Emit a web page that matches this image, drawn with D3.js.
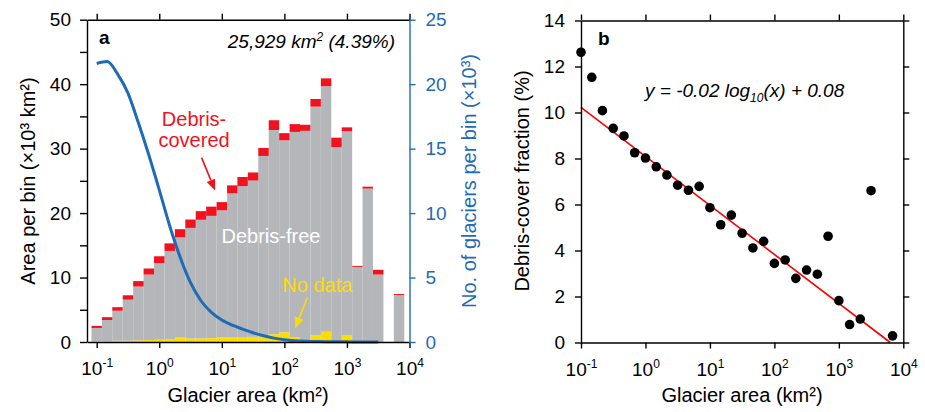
<!DOCTYPE html>
<html>
<head>
<meta charset="utf-8">
<script src="https://cdn.jsdelivr.net/npm/d3@7"></script>
<style>
  body { margin: 0; background: #fff; }
  svg { font-family: "Liberation Sans", Arial, Helvetica, sans-serif; }
</style>
</head>
<body>
<svg id="chart" width="925" height="412"></svg>
<script>
// bin centres (km2), each bin is 1/6 of a decade wide
const binCentres = [0.1, 0.147, 0.215, 0.316, 0.464, 0.681, 1, 1.47, 2.15, 3.16, 4.64, 6.81,
  10, 14.7, 21.5, 31.6, 46.4, 68.1, 100, 147, 215, 316, 464, 681, 1000, 1470, 2150, 3160, 4640, 6810];

// area per bin (x10^3 km2)
const noData = [0.1, 0.15, 0.2, 0.2, 0.25, 0.3, 0.35, 0.4, 0.7, 0.55, 0.55, 0.6,
  0.75, 0.75, 0.7, 0.8, 0.8, 1.2, 1.5, 0.7, 0.15, 1.0, 1.6, 0, 1.0, 0, 0, 0, 0, 0];
const debrisFree = [2.08, 3.26, 4.65, 6.37, 8.35, 10.16, 11.88, 13.73, 15.53, 17.15, 18.41, 18.97,
  19.68, 22.31, 23.48, 24.25, 28.06, 31.69, 29.79, 31.89, 32.61, 35.51, 38.09, 30.24, 31.69,
  11.65, 23.8, 10.46, 0, 7.3];
const debrisCovered = [0.32, 0.44, 0.55, 0.68, 0.85, 0.94, 1.07, 1.17, 1.27, 1.30, 1.34, 1.43,
  1.27, 1.24, 1.42, 1.25, 1.24, 1.51, 1.11, 1.21, 0.94, 1.19, 1.21, 1.46, 0.61,
  0.15, 0.3, 0.74, 0, 0.15];

// number of glaciers per bin (x10^3)
const glacierCount = [21.6, 21.75, 20.8, 19.3, 17.0, 14.5, 11.8, 9.0, 6.6, 4.6, 3.2, 2.3,
  1.7, 1.3, 1.0, 0.72, 0.48, 0.3, 0.18, 0.1, 0.06, 0.04, 0.02, 0.01, 0.01, 0, 0, 0];

// debris-cover fraction per bin (%)
const debrisFraction = [12.62, 11.53, 10.08, 9.31, 8.98, 8.25, 8.02, 7.64, 7.28, 6.84, 6.62, 6.79,
  5.86, 5.12, 5.54, 4.75, 4.11, 4.40, 3.44, 3.59, 2.79, 3.15, 2.97, 4.62, 1.82,
  0.78, 1.02, 6.60, null, 0.29];

// fitted line, % = slope * log10(area) + intercept
const fitSlope = -2.13;
const fitIntercept = 8.09;

const decades = [0.1, 1, 10, 100, 1000, 10000];
const exponents = ['-1', '0', '1', '2', '3', '4'];

const BLUE = '#1f6bb5';
const RED = '#f0121e';
const YELLOW = '#ffdc00';
const GREY = '#b4b6b9';
const halfBin = Math.pow(10, 1 / 12);

const svg = d3.select('#chart');

function styleAxis(g, colour) {
  g.attr('font-family', null).attr('font-size', 19);
  g.selectAll('path, line').attr('stroke', colour).attr('stroke-width', 1.4);
  g.selectAll('text').attr('fill', colour);
}

function decadeLabels(g) {
  g.selectAll('.tick text').remove();
  g.selectAll('.tick').append('text')
    .attr('y', 33)
    .attr('text-anchor', 'middle')
    .attr('fill', '#000')
    .attr('font-size', 19)
    .each(function (d, i) {
      const t = d3.select(this);
      t.append('tspan').text('10');
      t.append('tspan').attr('dy', -8).attr('font-size', 12)
        .text(exponents[decades.indexOf(d)]);
    });
}

function arrow(g, p1, p2, colour) {
  const [x1, y1] = p1, [x2, y2] = p2;
  const a = Math.atan2(y2 - y1, x2 - x1);
  const len = 11, w = 4.5;
  const bx = x2 - len * Math.cos(a), by = y2 - len * Math.sin(a);
  g.append('line').attr('x1', x1).attr('y1', y1).attr('x2', bx).attr('y2', by)
    .attr('stroke', colour).attr('stroke-width', 1.6);
  g.append('path')
    .attr('d', `M${x2},${y2}L${bx - w * Math.sin(a)},${by + w * Math.cos(a)}L${bx + w * Math.sin(a)},${by - w * Math.cos(a)}Z`)
    .attr('fill', colour);
}

// ---------------- panel a ----------------
const aLeft = 87, aRight = 409.5, aTop = 19.7, aBottom = 342;
const xa0 = d3.scaleLog().domain([0.1, 1e4]).range([96.7, aRight]);
const xa = xa0.copy().domain([xa0.invert(aLeft), 1e4]).range([aLeft, aRight]);
const ya = d3.scaleLinear().domain([0, 50]).range([aBottom, aTop]);
const yr = d3.scaleLinear().domain([0, 25]).range([aBottom, aTop]);

const rows = binCentres.map((c, i) => ({
  c: c, noData: noData[i], debrisFree: debrisFree[i], debrisCovered: debrisCovered[i]
}));
const stacked = d3.stack().keys(['noData', 'debrisFree', 'debrisCovered'])(rows);
const fills = { noData: YELLOW, debrisFree: GREY, debrisCovered: RED };

const pa = svg.append('g');
stacked.forEach(layer => {
  pa.append('g').attr('fill', fills[layer.key])
    .selectAll('rect')
    .data(layer.filter(d => d[1] > d[0]))
    .enter()
    .append('rect')
    .attr('x', d => xa(d.data.c / halfBin))
    .attr('width', d => xa(d.data.c * halfBin) - xa(d.data.c / halfBin))
    .attr('y', d => ya(d[1]))
    .attr('height', d => ya(d[0]) - ya(d[1]));
});

// glacier count curve
const countLine = d3.line()
  .x((d, i) => xa(binCentres[i]))
  .y(d => yr(d))
  .curve(d3.curveMonotoneX);
pa.append('path')
  .attr('d', countLine(glacierCount))
  .attr('fill', 'none')
  .attr('stroke', BLUE)
  .attr('stroke-width', 3);

// axes
const axB = pa.append('g').attr('transform', `translate(0,${aBottom})`)
  .call(d3.axisBottom(xa).tickValues(decades).tickSize(6).tickSizeOuter(0));
styleAxis(axB, '#000');
decadeLabels(axB);

const axT = pa.append('g').attr('transform', `translate(0,${aTop})`)
  .call(d3.axisTop(xa).tickValues(decades).tickSize(6).tickSizeOuter(0).tickFormat(''));
styleAxis(axT, '#000');

const axL = pa.append('g').attr('transform', `translate(${aLeft},0)`)
  .call(d3.axisLeft(ya).tickValues(d3.range(0, 51, 5)).tickSize(7).tickPadding(9)
    .tickSizeOuter(0).tickFormat(d => d % 10 === 0 ? d : ''));
styleAxis(axL, '#000');

const axR = pa.append('g').attr('transform', `translate(${aRight},0)`)
  .call(d3.axisRight(yr).tickValues(d3.range(0, 26, 5)).tickSize(6).tickPadding(10).tickSizeOuter(0));
styleAxis(axR, BLUE);

// titles
pa.append('text').attr('transform', 'translate(35,181) rotate(-90)')
  .attr('text-anchor', 'middle').attr('font-size', 20).text('Area per bin (×10³ km²)');
pa.append('text').attr('transform', 'translate(476,181) rotate(-90)')
  .attr('text-anchor', 'middle').attr('font-size', 20).attr('fill', BLUE)
  .text('No. of glaciers per bin (×10³)');
pa.append('text').attr('x', 248).attr('y', 402)
  .attr('text-anchor', 'middle').attr('font-size', 20).text('Glacier area (km²)');
pa.append('text').attr('x', 99).attr('y', 44)
  .attr('font-size', 19).attr('font-weight', 'bold').text('a');

const total = pa.append('text').attr('x', 395).attr('y', 48)
  .attr('text-anchor', 'end').attr('font-size', 19).attr('font-style', 'italic');
total.append('tspan').text('25,929 km');
total.append('tspan').attr('dy', -7).attr('font-size', 12).text('2');
total.append('tspan').attr('dy', 7).text(' (4.39%)');

// annotations
pa.append('text').attr('x', xa(3.6)).attr('y', ya(33.5))
  .attr('text-anchor', 'middle').attr('font-size', 20).attr('fill', RED).text('Debris-');
pa.append('text').attr('x', xa(3.6)).attr('y', ya(30.2))
  .attr('text-anchor', 'middle').attr('font-size', 20).attr('fill', RED).text('covered');
arrow(pa, [xa(4.75), ya(28.6)], [xa(7.8), ya(23.5)], RED);

pa.append('text').attr('x', xa(61)).attr('y', ya(15.4))
  .attr('text-anchor', 'middle').attr('font-size', 20).attr('fill', '#fff').text('Debris-free');

pa.append('text').attr('x', xa(337)).attr('y', ya(7.7))
  .attr('text-anchor', 'middle').attr('font-size', 20).attr('fill', YELLOW).text('No data');
arrow(pa, [xa(234), ya(6.9)], [xa(148), ya(2.15)], YELLOW);

// ---------------- panel b ----------------
const bLeft = 581, bRight = 903.3, bTop = 20.5, bBottom = 342.5;
const xb = d3.scaleLog().domain([0.1, 1e4]).range([bLeft, bRight]);
const yb = d3.scaleLinear().domain([0, 14]).range([bBottom, bTop]);

const pb = svg.append('g');

const fitEnd = Math.pow(10, -fitIntercept / fitSlope);
pb.append('line')
  .attr('x1', xb(0.1)).attr('y1', yb(fitSlope * -1 + fitIntercept))
  .attr('x2', xb(fitEnd)).attr('y2', yb(0))
  .attr('stroke', '#ff0000').attr('stroke-width', 1.6);

pb.append('g').selectAll('circle')
  .data(binCentres.map((c, i) => ({ c: c, v: debrisFraction[i] })).filter(d => d.v !== null))
  .enter()
  .append('circle')
  .attr('cx', d => xb(d.c))
  .attr('cy', d => yb(d.v))
  .attr('r', 4.8)
  .attr('fill', '#000');

const bxB = pb.append('g').attr('transform', `translate(0,${bBottom})`)
  .call(d3.axisBottom(xb).tickValues(decades).tickSize(6).tickSizeOuter(0));
styleAxis(bxB, '#000');
decadeLabels(bxB);

const bxT = pb.append('g').attr('transform', `translate(0,${bTop})`)
  .call(d3.axisTop(xb).tickValues(decades).tickSize(6).tickSizeOuter(0).tickFormat(''));
styleAxis(bxT, '#000');

const byL = pb.append('g').attr('transform', `translate(${bLeft},0)`)
  .call(d3.axisLeft(yb).tickValues(d3.range(0, 15, 2)).tickSize(6).tickPadding(10).tickSizeOuter(0));
styleAxis(byL, '#000');

const byR = pb.append('g').attr('transform', `translate(${bRight},0)`)
  .call(d3.axisRight(yb).tickValues(d3.range(0, 15, 2)).tickSize(6).tickSizeOuter(0).tickFormat(''));
styleAxis(byR, '#000');

pb.append('text').attr('transform', 'translate(529,181) rotate(-90)')
  .attr('text-anchor', 'middle').attr('font-size', 20).text('Debris-cover fraction (%)');
pb.append('text').attr('x', 742).attr('y', 402)
  .attr('text-anchor', 'middle').attr('font-size', 20).text('Glacier area (km²)');
pb.append('text').attr('x', 598).attr('y', 45)
  .attr('font-size', 19).attr('font-weight', 'bold').text('b');

const eq = pb.append('text').attr('x', 645).attr('y', 97)
  .attr('font-size', 19).attr('font-style', 'italic');
eq.append('tspan').text('y = -0.02 log');
eq.append('tspan').attr('dy', 5).attr('font-size', 12).text('10');
eq.append('tspan').attr('dy', -5).text('(x) + 0.08');
</script>
</body>
</html>
